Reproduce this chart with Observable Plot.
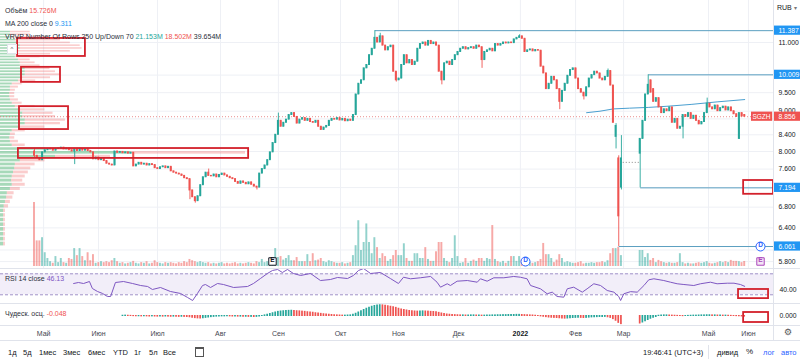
<!DOCTYPE html>
<html><head><meta charset="utf-8">
<script src="https://cdn.jsdelivr.net/npm/d3@7"></script>
<script src="https://cdn.jsdelivr.net/npm/@observablehq/plot@0.6"></script>
<style>
html,body{margin:0;padding:0;background:#fff;}
#root{position:relative;width:800px;height:361px;overflow:hidden;font-family:"Liberation Sans",Arial,sans-serif;color:#2a2e39;}
#root > svg{position:absolute;left:0;}
.t{position:absolute;white-space:nowrap;font-size:7px;line-height:9px;}
.sep{position:absolute;background:#e0e3eb;}
</style></head><body><div id="root"></div>
<script>
// ---------------- DATA ----------------
const close = [
7.90,7.85,7.80,7.98,8.03,8.05,8.06,8.02,8.06,8.07,
8.09,8.05,8.07,8.03,8.00,8.05,8.01,8.06,8.02,8.05,
8.01,7.98,7.82,7.86,7.80,7.84,7.78,7.72,7.70,7.68,
8.00,7.97,7.99,7.96,7.98,7.95,7.97,7.66,7.70,7.74,
7.70,7.72,7.68,7.71,7.69,7.62,7.60,7.64,7.66,7.62,
7.65,7.55,7.52,7.50,7.48,7.45,7.40,7.38,7.14,7.00,
6.92,7.02,7.25,7.42,7.52,7.45,7.44,7.48,7.42,7.47,
7.50,7.46,7.43,7.40,7.38,7.32,7.28,7.33,7.30,7.27,
7.31,7.26,7.22,7.20,7.50,7.60,7.68,7.80,7.98,8.20,
8.40,8.75,8.60,8.70,8.78,8.90,8.95,8.85,8.68,8.78,
8.82,8.75,8.80,8.72,8.70,8.75,8.60,8.52,8.58,8.62,
8.75,8.80,8.78,8.82,8.76,8.80,8.74,8.78,8.75,8.90,
9.45,9.75,9.85,10.20,10.30,10.60,10.80,11.15,11.00,11.20,
10.90,10.75,10.85,10.90,10.10,9.85,9.90,10.30,10.60,10.35,
10.45,10.30,10.40,10.80,10.95,11.00,10.90,11.05,10.95,11.00,
10.90,10.10,9.85,10.35,10.40,10.30,10.45,10.60,10.70,10.80,
10.85,10.78,10.82,10.85,10.80,10.90,10.85,10.45,10.70,10.75,
10.80,10.72,10.95,10.90,10.95,11.00,10.97,11.00,10.98,11.10,
11.15,11.20,11.12,10.70,10.75,10.78,10.72,10.76,10.74,10.25,
10.05,9.60,9.75,9.95,9.85,9.60,9.25,9.55,9.75,9.98,
10.15,10.20,9.90,9.60,9.50,9.40,9.65,9.90,10.00,10.10,
10.05,9.90,9.85,9.95,10.12,9.70,8.70,8.62,6.62,7.84,
null,null,null,null,null,null,
8.30,8.75,9.45,9.72,9.50,9.25,9.35,9.10,8.95,9.05,
9.00,9.10,8.70,8.80,8.55,8.60,8.90,8.85,8.95,8.80,
8.88,8.75,8.66,8.72,8.95,9.20,9.10,9.05,9.15,9.00,
9.08,9.12,9.02,9.10,9.00,8.92,8.85,8.95,8.86,8.856];
const openBars = [0,217,218,219,226,230,231,263,265];
const openVals = [8.00,8.35,7.84,7.20,7.95,9.85,9.60,8.30,8.90];
const highBars = [0,65,91,127,129,181,214,217,218,219,229,251];
const highVals = [8.06,7.60,8.95,11.387,11.30,11.25,10.18,8.68,7.90,8.38,10.009,9.35];
const lowBars = [0,15,58,60,83,135,152,167,196,205,217,218,219,226,242,263];
const lowVals = [7.86,7.70,6.95,6.88,7.15,9.80,9.72,10.20,9.04,9.30,8.06,6.061,7.15,7.194,8.30,8.29];
const volume = [
200,80,80,90,43,25,15,10,31,12,25,12,10,25,22,56,34,56,31,18,43,18,37,
10,12,15,12,15,12,18,25,15,10,12,8,10,12,16,10,8,12,10,15,8,10,18,12,10,8,12,10,12,10,
8,12,10,15,12,22,18,15,12,15,12,10,12,8,10,8,10,12,8,10,8,10,12,8,10,8,10,12,10,8,15,
12,22,12,15,14,20,56,28,31,20,25,34,18,18,28,15,15,15,37,15,40,18,20,25,15,12,18,15,12,10,10,12,8,10,12,
34,65,143,50,75,133,75,40,90,59,
25,40,31,16,22,34,50,34,34,71,
25,16,16,40,40,25,25,59,22,16,
16,46,75,75,25,16,12,25,96,31,
10,12,25,10,16,20,16,25,25,16,
25,22,128,22,15,12,16,10,16,31,
31,16,31,20,25,12,12,10,12,15,
22,72,37,37,25,12,20,37,25,12,
15,12,10,10,12,15,8,10,10,12,
10,12,12,15,12,18,40,56,56,60,34,
null,null,null,null,null,null,
50,50,28,40,19,25,12,19,15,12,10,12,10,10,12,40,12,8,10,8,
8,10,12,10,12,15,10,8,10,12,15,12,15,12,19,16,16,15,12,15.726];
const maBars = [206,211,216,222,229,236,245,255,265];
const maVals = [8.96,9.00,9.06,9.08,9.10,9.13,9.18,9.25,9.311];
const rsiBars = [14.6,16.4,18.3,20.5,21.6,23.5,25.4,27.2,28.4,30.2,33.2,36.6,39.6,42.2,44,47,50.7,54.5,57.1,59,60.8,62.7,63.8,65.7,68.3,70.5,74.3,79.5,81.7,84.3,86.9,88.8,90.7,92.5,94.4,96.6,99.3,103,106.7,110.4,113.1,116.8,119,120.9,122.8,125.4,129.1,132.8,135.8,137.7,140.3,144,147.8,150.2,151.5,154,155.2,157.7,161.5,165.2,166.4,168.9,171.4,175.1,178.8,181.3,183.8,185.1,188.8,191.3,193.2,195,197.5,198.8,201.2,204.4,206.2,208.7,211.2,213.7,216.2,218,218.7,219.9,222.4,224.9,227.4,229.2,231.1,234.8,237.3,239.8,242.3,246,248.5,252.2,254.7,258.5,261,263.4,265];
const rsiVals = [51.5,53.4,51.5,55.3,42,36.3,32.5,26.8,26.8,53.4,55.3,51.5,47.7,45.8,40.1,43.9,36.3,32.5,24.9,19.1,32.5,47.7,49.6,43.9,51.5,49.6,43.9,45.8,51.5,61,70.6,76.3,78.2,72.5,78.2,70.6,66.8,70.6,57.2,59.1,63,61,66.8,76.3,80,70.6,72.5,61,51.5,63.5,60.5,62.4,64.9,54,44.5,51,47.7,55.9,57.2,54,60.5,55.9,62.4,62.4,64.9,63.5,60.5,47.7,41.4,31.9,35,26.8,25.4,41.4,44.5,35,41.4,51,47.7,38.2,35,26.8,19.1,31.9,36,35,47.7,58.6,60.5,57.2,54,51,49.6,47.7,51,54,51,52.1,52.1,49.6,46.13];
const aoStart = 33;
const ao = [
0.02,0.03,0.02,0.01,-0.01,-0.02,-0.02,-0.03,-0.02,-0.03,-0.04,-0.03,-0.04,-0.05,-0.04,-0.05,-0.04,-0.05,-0.06,-0.05,-0.06,-0.07,-0.06,-0.07,-0.08,-0.10,
-0.14,-0.17,-0.19,-0.20,-0.18,-0.15,-0.12,
-0.09,-0.07,-0.05,-0.04,-0.03,-0.03,-0.02,-0.03,-0.04,-0.04,-0.05,-0.05,-0.06,-0.06,-0.07,-0.07,-0.08,-0.07,-0.04,0.00,0.05,
0.10,0.16,0.22,0.28,0.33,0.36,0.38,0.40,0.41,0.42,
0.40,0.38,0.37,0.35,0.33,0.30,0.28,0.26,0.22,0.20,0.17,0.14,0.12,0.10,0.08,
0.06,0.05,0.04,0.03,0.03,0.04,0.05,
0.10,0.18,0.28,0.38,0.48,0.58,0.66,0.74,0.80,0.84,0.86,0.85,
0.82,0.78,0.74,0.70,0.65,0.58,
0.52,0.48,0.44,0.40,0.38,0.36,0.35,0.36,0.37,0.36,0.35,0.33,0.32,0.30,
0.25,0.20,0.16,0.12,0.10,0.08,0.07,0.06,0.05,0.05,
0.04,0.04,0.05,0.05,0.04,0.04,0.03,0.03,0.04,0.04,0.05,0.05,0.06,0.06,0.07,0.07,0.08,0.08,0.08,0.09,0.09,0.08,0.07,0.06,0.05,0.04,0.02,0.00,-0.03,-0.06,-0.09,-0.12,-0.14,-0.15,-0.16,
-0.18,-0.20,-0.21,-0.20,-0.18,-0.16,-0.15,-0.14,-0.15,-0.16,-0.15,-0.13,-0.11,-0.10,-0.09,-0.08,-0.08,-0.07,
-0.10,-0.15,-0.25,-0.38,-0.55,-0.65,
null,null,null,null,null,null,
-0.60,-0.52,-0.42,-0.32,-0.22,-0.14,-0.08,
0.02,0.04,0.05,0.05,0.04,0.03,0.02,0.01,0.00,-0.01,0.00,0.01,0.02,0.03,0.03,0.04,0.05,0.05,0.06,0.06,0.05,0.05,0.04,0.04,0.03,0.03,0.02,0.01,0.00,-0.01,-0.02,-0.035,-0.048];
const vrvpHigh = 11.387, vrvpLow = 6.061, vrvpPocTotal = 39.654;
const vrvpUp = [1.6,1.6,1.9,2.4,2.9,3.2,3.2,2.9,2.4,2.4, 2.9,3.2,3.2,4.0,4.0,4.0,3.6,2.9,1.9,1.6, 1.6,1.5,1.5,1.6,1.9,2.4,3.2,3.6,3.6,4.0, 4.0,3.2,1.9,1.6,1.5,1.6,1.9,7.3,21.153,8.9, 3.2,2.4,2.3,2.1,1.9,1.8,1.9,1.6,1.1,1.0, 0.8,0.6,0.5,0.5,0.5,0.5,0.5,0.5,0.5,0.5];
const vrvpDown = [3.2,3.2,5.3,7.3,8.4,9.7,10.0,8.4,5.7,4.0, 1.9,2.4,3.2,4.0,4.9,5.7,4.5,2.8,1.6,1.3, 0.8,0.8,0.8,1.3,1.6,3.2,4.0,4.9,5.3,6.5, 5.7,4.0,2.1,0.8,0.8,1.3,2.1,7.3,18.502,8.9, 4.0,3.2,2.6,2.4,2.1,1.8,2.1,1.6,1.1,1.0, 0.8,0.7,0.3,0.3,0.3,0.3,0.3,0.3,0.3,0.3];
const levelPrices = [11.387, 10.009, 7.194, 6.061];
const levelStartBars = [127, 229, 226, 218];
const gapLine = {b1: 219.5, b2: 226, p: 7.75};
const priceTicks = [11, 9.5, 9, 8.4, 8, 7.6, 6.8, 6.4, 5.8];
const gridTicks = [11, 10, 9.5, 9, 8.8, 8.4, 8, 7.6, 7.2, 6.8, 6.4, 6.0, 5.8];
const monthBars = [3.4, 23.9, 45.9, 69.4, 91.0, 114.2, 135.8, 158.2, 181.3, 201.9, 219.8, 251.5, 266.4];
const monthLabels = ["Май","Июн","Июл","Авг","Сен","Окт","Ноя","Дек","2022","Фев","Мар","Май","Июн"];
const eventBars = [88.8, 183.2, 270.9, 270.9];
const eventTypes = ["E","D","D","E"];
const eventRows = [0, 0, 1, 0];
const boxX1 = [-6.3,-4.85,-5.6,-6.0,264.6], boxX2 = [19.0,9.7,12.7,79.9,275.75];
const boxP1 = [11.13,10.23,9.12,8.07,7.35], boxP2 = [10.56,9.79,8.53,7.84,7.06];
const rsiBox = {b1:262.7, b2:273.9, v1:40.1, v2:22.7};
const aoBox = {b1:264.6, b2:273.9, v1:0.28, v2:-0.52};

// ---------------- LAYOUT ----------------
const FONT = '"Liberation Sans", Arial, sans-serif';
const UP = "#26a69a", DOWN = "#ef5350", LEVEL = "#5b9fc0", BOXC = "#d3202b";
const root = document.getElementById("root");
const BAR0 = 34, STEP = 2.68, PANE_W = 773;
const xDomain = [-BAR0/STEP, (PANE_W-BAR0)/STEP];
const xAxisEnd = xDomain[1] + 27/STEP;
const pAt = y => 11*Math.exp(-(y-42)/342.3);
const yDomain = [pAt(268), pAt(0)];
function place(svg, top){ svg.style.position="absolute"; svg.style.left="0px"; svg.style.top=top+"px"; root.appendChild(svg); }
const common = {width:800, marginLeft:0, marginRight:27, marginTop:0, marginBottom:0,
  style:{background:"transparent", overflow:"visible", fontFamily:FONT, fontSize:"7px"}, color:{type:"identity"}};
const X = {domain:xDomain, range:[0,PANE_W], axis:null};
const YP = {type:"log", domain:yDomain, range:[268,0], axis:null};

const oMap = new Map(openBars.map((b,k)=>[b,openVals[k]]));
const hMap = new Map(highBars.map((b,k)=>[b,highVals[k]]));
const lMap = new Map(lowBars.map((b,k)=>[b,lowVals[k]]));
const candles = [];
close.forEach((c,i)=>{
  if (c == null) return;
  const o = oMap.has(i) ? oMap.get(i) : close[i-1];
  const h = Math.max(o, c, hMap.has(i) ? hMap.get(i) : -Infinity);
  const l = Math.min(o, c, lMap.has(i) ? lMap.get(i) : Infinity);
  candles.push({i, o, c, h, l, v: volume[i], up: c >= o});
});
const last = candles[candles.length-1];

// grid
place(Plot.plot({...common, height:268, x:X, y:YP, marks:[
  Plot.ruleY(gridTicks, {stroke:"#eef0f5"}),
  Plot.ruleX(monthBars, {stroke:"#eef0f5"})
]}), 0);

// VRVP
const rowStep = (vrvpHigh - vrvpLow)/vrvpUp.length;
const rows = vrvpUp.map((u,k)=>({hi: vrvpHigh - k*rowStep, lo: vrvpHigh-(k+1)*rowStep, u, d: vrvpDown[k]}));
place(Plot.plot({...common, height:268, x:{domain:[0, vrvpPocTotal], range:[0,245], axis:null}, y:YP, marks:[
  Plot.rect(rows, {x1: ()=>0, x2:"u", y1:"lo", y2:"hi", fill:"rgba(60,170,100,0.45)", insetTop:0.6, insetBottom:0.6}),
  Plot.rect(rows, {x1:"u", x2: d=>d.u+d.d, y1:"lo", y2:"hi", fill:"rgba(240,90,90,0.30)", insetTop:0.6, insetBottom:0.6})
]}), 0);

// volume
place(Plot.plot({...common, height:268, x:X, y:{domain:[0,200], range:[266,202], axis:null}, marks:[
  Plot.rect(candles, {x1: d=>d.i-0.36, x2: d=>d.i+0.36, y1: ()=>0, y2:"v",
    fill: d=> d.up ? "rgba(38,166,154,0.5)" : "rgba(239,83,80,0.5)"})
]}), 0);

// main price pane
const levels = levelPrices.map((p,k)=>({p, b: levelStartBars[k]}));
const maPts = maBars.map((b,k)=>({b, v: maVals[k]}));
const events = eventBars.map((b,k)=>({b, t: eventTypes[k], r: eventRows[k]}));
const boxes = boxX1.map((x1,k)=>({x1, x2: boxX2[k], p1: boxP1[k], p2: boxP2[k]}));
const evMarks = [];
for (const row of [0,1]) {
  const dy = row === 0 ? -7 : -22;
  const E = events.filter(e=>e.r===row && e.t==="E"), D = events.filter(e=>e.r===row && e.t==="D");
  evMarks.push(
    Plot.dot(E, {x:"b", frameAnchor:"bottom", dy, symbol:"square", r:4.2, fill: d=> d.b>265 ? "#f3e5f5" : "#fff", stroke: d=> d.b>265 ? "#ab47bc" : "#131722", strokeWidth:1}),
    Plot.text(E, {x:"b", frameAnchor:"bottom", dy, text:"t", fill: d=> d.b>265 ? "#ab47bc" : "#131722", fontSize:6.5, fontWeight:"bold"}),
    Plot.dot(D, {x:"b", frameAnchor:"bottom", dy, symbol:"circle", r:4.5, fill:"#fff", stroke:"#2962ff", strokeWidth:1}),
    Plot.text(D, {x:"b", frameAnchor:"bottom", dy, text:"t", fill:"#2962ff", fontSize:6.5, fontWeight:"bold"})
  );
}
place(Plot.plot({...common, height:268, x:X, y:YP, marks:[
  Plot.ruleY([last.c], {stroke:"#e57373", strokeDasharray:"1,2", strokeOpacity:0.8}),
  Plot.link(levels, {x1:"b", x2: ()=>xDomain[1], y1:"p", y2:"p", stroke:LEVEL, strokeWidth:1}),
  Plot.link([gapLine], {x1:"b1", x2:"b2", y1:"p", y2:"p", stroke:"#888", strokeDasharray:"1,2"}),
  Plot.line(maPts, {x:"b", y:"v", stroke:"#4a9fd0", strokeWidth:1}),
  Plot.ruleX(candles, {x:"i", y1:"l", y2:"h", stroke: d=> d.up ? UP : DOWN, strokeWidth:0.9}),
  Plot.rect(candles, {x1: d=>d.i-0.36, x2: d=>d.i+0.36, y1:"o", y2:"c", fill: d=> d.up ? UP : DOWN, insetTop:-0.5, insetBottom:-0.5}),
  ...evMarks,
  Plot.rect(boxes, {x1:"x1", x2:"x2", y1:"p1", y2:"p2", fill:"none", stroke:BOXC, strokeWidth:1.8}),
  // right price axis
  Plot.text(priceTicks, {y: d=>d, frameAnchor:"right", dx:5, textAnchor:"start", text: d=>d.toFixed(3), fill:"#131722", fontSize:6.8}),
  Plot.rect(levels, {x1: ()=>xDomain[1], x2: ()=>xAxisEnd, y1:"p", y2:"p", insetTop:-4.6, insetBottom:-4.6, fill:"#2196f3"}),
  Plot.text(levels, {y:"p", frameAnchor:"right", dx:5, textAnchor:"start", text: d=>d.p.toFixed(3), fill:"#fff", fontSize:6.8}),
  Plot.rect([last], {x1: ()=>xDomain[1]-22/STEP, x2: ()=>xDomain[1]-0.3, y1:"c", y2:"c", insetTop:-4.6, insetBottom:-4.6, fill:DOWN}),
  Plot.text([last], {x: ()=>xDomain[1], y:"c", dx:-3, textAnchor:"end", text: ()=>"SGZH", fill:"#fff", fontSize:6.5}),
  Plot.rect([last], {x1: ()=>xDomain[1]+0.3, x2: ()=>xAxisEnd, y1:"c", y2:"c", insetTop:-4.6, insetBottom:-4.6, fill:DOWN}),
  Plot.text([last], {y:"c", frameAnchor:"right", dx:5, textAnchor:"start", text: d=>d.c.toFixed(3), fill:"#fff", fontSize:6.8})
]}), 0);

// RSI pane
const rsiPts = rsiBars.map((b,k)=>({b, v: rsiVals[k]}));
place(Plot.plot({...common, height:35, x:X, y:{domain:[13.4,80.1], range:[35,0], axis:null}, marks:[
  Plot.rect([0], {x1: ()=>xDomain[0], x2: ()=>xDomain[1], y1: ()=>30, y2: ()=>70, fill:"rgba(126,87,194,0.10)"}),
  Plot.ruleY([30,70], {stroke:"#a092c8", strokeDasharray:"3,2"}),
  Plot.line(rsiPts, {x:"b", y:"v", stroke:"#7e57c2", strokeWidth:1}),
  Plot.text([40], {y: d=>d, frameAnchor:"right", dx:6, textAnchor:"start", text: d=>d.toFixed(2), fill:"#131722", fontSize:6.8}),
  Plot.rect([rsiBox], {x1:"b1", x2:"b2", y1:"v1", y2:"v2", fill:"none", stroke:BOXC, strokeWidth:1.8})
]}), 268);

// Awesome oscillator pane
const aoData = [];
ao.forEach((v,k)=>{ if (v == null) return; const prev = ao[k-1]; aoData.push({i: aoStart+k, v, up: prev == null ? v >= 0 : v >= prev}); });
place(Plot.plot({...common, height:22, x:X, y:{domain:[-0.76,1.0], range:[22,0], axis:null}, marks:[
  Plot.rect(aoData, {x1: d=>d.i-0.32, x2: d=>d.i+0.32, y1: ()=>0, y2:"v", fill: d=> d.up ? UP : DOWN, insetTop:-0.5, insetBottom:-0.5}),
  Plot.text([0], {y: d=>d, frameAnchor:"right", dx:6, textAnchor:"start", text: d=>d.toFixed(3), fill:"#131722", fontSize:6.8}),
  Plot.rect([aoBox], {x1:"b1", x2:"b2", y1:"v1", y2:"v2", fill:"none", stroke:BOXC, strokeWidth:1.8})
]}), 303);

// time axis
const months = monthBars.map((b,k)=>({b, l: monthLabels[k]}));
place(Plot.plot({...common, height:15, x:X, y:{domain:[0,1], range:[15,0], axis:null}, marks:[
  Plot.text(months.filter(m=>m.l!=="2022"), {x:"b", frameAnchor:"middle", text:"l", fill:"#434651", fontSize:7}),
  Plot.text(months.filter(m=>m.l==="2022"), {x:"b", frameAnchor:"middle", text:"l", fill:"#131722", fontSize:7, fontWeight:"bold"})
]}), 326);

// separators
function sep(l,t,w,h){ const d=document.createElement("div"); d.className="sep"; Object.assign(d.style,{left:l+"px",top:t+"px",width:w+"px",height:h+"px"}); root.appendChild(d); }
sep(773,0,1,340); sep(0,268,800,1); sep(0,303,800,1); sep(0,325,800,1); sep(0,340,800,1);
sep(708,345,1,14);

function txt(html, left, top, css){ const d=document.createElement("div"); d.className="t"; d.style.left=left+"px"; d.style.top=top+"px"; if(css) d.style.cssText += css; d.innerHTML=html; root.appendChild(d); return d; }
// legends
txt(`Объём <span style="color:#ef5350">${volume[volume.length-1].toFixed(3)}M</span>`, 5, 5.5);
txt(`MA 200 close 0 <span style="color:#2196f3">${maVals[maVals.length-1].toFixed(3)}</span>`, 5, 19);
txt(`VRVP Number Of Rows 250 Up/Down 70 <span style="color:#26a69a">${vrvpUp[38].toFixed(3)}M</span> <span style="color:#ef5350">${vrvpDown[38].toFixed(3)}M</span> ${vrvpPocTotal.toFixed(3)}M`, 5, 31.5);
txt(`^`, 7, 44, "width:8px;height:8px;line-height:9px;text-align:center;background:#fff;border:1px solid #e0e3eb;font-size:6px;color:#555;");
txt(`RSI 14 close <span style="color:#7e57c2">${rsiVals[rsiVals.length-1].toFixed(2)}</span>`, 5, 273.5);
txt(`Чудеск. осц. <span style="color:#ef5350">${ao[ao.length-1].toFixed(3)}</span>`, 5, 308.5);
txt(`RUB <span style="font-size:6px;color:#777">▾</span>`, 777, 3, "color:#131722;");
txt(`⚙`, 784, 328, "font-size:9px;color:#555;font-family:'DejaVu Sans';");
// toolbar
const tb = [["1д",8],["5д",23],["1мес",39],["3мес",63],["6мес",88],["YTD",113],["1г",134],["5л",149],["Все",163]];
tb.forEach(([s,x])=>txt(s, x, 347.5, "font-size:7.5px;color:#131722;"));
txt("", 195, 347, "width:7px;height:7px;border:1px solid #555;border-top-width:2px;");
txt("19:46:41 (UTC+3)", 643, 347.5, "font-size:7.5px;color:#131722;");
txt("дивид", 717, 347.5, "font-size:7.5px;color:#131722;");
txt("%", 746, 347, "font-size:8px;color:#131722;");
txt("лог", 763, 347.5, "font-size:7.5px;color:#2962ff;");
txt("авто", 781, 347.5, "font-size:7.5px;color:#2962ff;");
</script></body></html>
